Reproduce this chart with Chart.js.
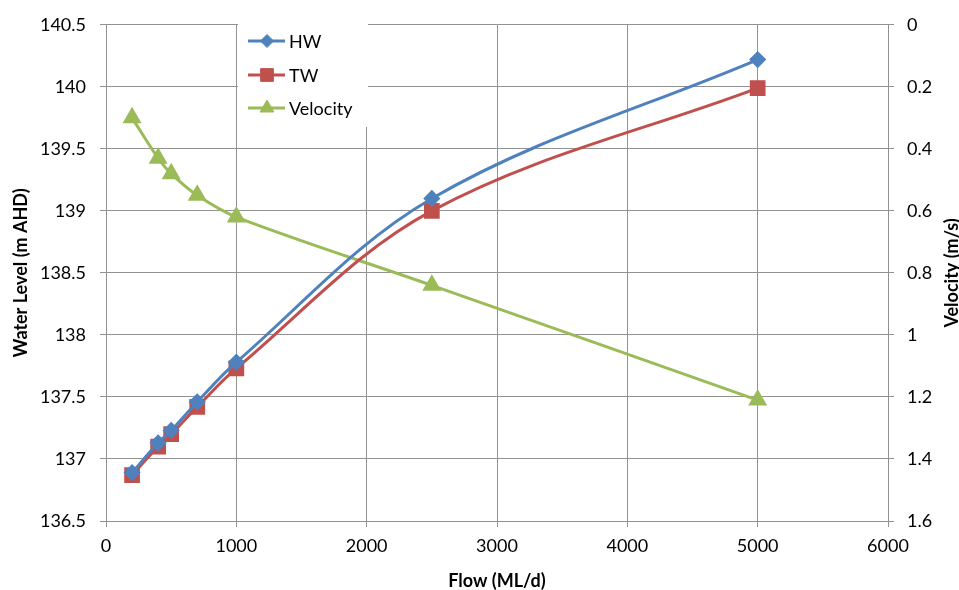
<!DOCTYPE html>
<html>
<head>
<meta charset="utf-8">
<script src="https://cdn.jsdelivr.net/npm/chart.js@4/dist/chart.umd.min.js"></script>
<style>
html,body{margin:0;padding:0;background:#fff;}
#wrap{width:959px;height:590px;}
</style>
</head>
<body>
<div id="wrap"><canvas id="c" width="959" height="590"></canvas></div>
<script>
const flows = [200, 400, 500, 700, 1000, 2500, 5000];
const hw = [136.89, 137.13, 137.23, 137.46, 137.78, 139.10, 140.22];
const tw = [136.87, 137.10, 137.20, 137.42, 137.73, 139.00, 139.99];
const velocity = [0.30, 0.43, 0.48, 0.55, 0.62, 0.84, 1.21];
const seriesNames = ['HW', 'TW', 'Velocity'];
const xTitle = 'Flow (ML/d)';
const yTitle = 'Water Level (m AHD)';
const y2Title = 'Velocity (m/s)';

const FONT = 'Lato, "Liberation Sans", sans-serif';
const GRID = '#929292';
const pts = (xs, ys) => xs.map((x, i) => ({x: x, y: ys[i]}));
const fmt = v => String(parseFloat(Number(v).toFixed(3)));

const legendPlugin = {
  id: 'insideLegend',
  afterDraw(chart) {
    const ctx = chart.ctx;
    ctx.save();
    ctx.fillStyle = '#ffffff';
    ctx.fillRect(238, 18, 130, 109);
    const ys = [41, 75, 108];
    chart.data.datasets.forEach((ds, i) => {
      const y = ys[i];
      ctx.strokeStyle = ds.borderColor;
      ctx.lineWidth = 3;
      ctx.beginPath();
      ctx.moveTo(248, y);
      ctx.lineTo(285, y);
      ctx.stroke();
      ctx.fillStyle = ds.backgroundColor;
      ctx.strokeStyle = ds.borderColor;
      ctx.lineWidth = 1;
      Chart.helpers.drawPoint(ctx, {pointStyle: ds.pointStyle, radius: ds.pointRadius, borderWidth: 1, rotation: 0}, 267, y);
      ctx.fillStyle = '#000';
      ctx.font = '18px ' + FONT;
      ctx.textBaseline = 'middle';
      ctx.textAlign = 'left';
      ctx.fillText(ds.label, 289, y + 1);
    });
    // right axis title (reads bottom-to-top, partly cut at the edge)
    const a = chart.chartArea;
    ctx.translate(952, (a.top + a.bottom) / 2);
    ctx.rotate(-Math.PI / 2);
    ctx.fillStyle = '#000';
    ctx.font = 'bold 18px ' + FONT;
    ctx.textAlign = 'center';
    ctx.textBaseline = 'middle';
    ctx.fillText(y2Title, 0, 0);
    ctx.restore();
  }
};

new Chart(document.getElementById('c'), {
  type: 'line',
  data: {
    datasets: [
      {label: seriesNames[0], data: pts(flows, hw), yAxisID: 'y', borderColor: '#4F81BD', backgroundColor: '#4F81BD',
       pointStyle: 'rectRot', pointRadius: 6.5, borderWidth: 3, tension: 0.35},
      {label: seriesNames[1], data: pts(flows, tw), yAxisID: 'y', borderColor: '#C0504D', backgroundColor: '#C0504D',
       pointStyle: 'rect', pointRadius: 9, borderWidth: 3, tension: 0.35},
      {label: seriesNames[2], data: pts(flows, velocity), yAxisID: 'y1', borderColor: '#9BBB59', backgroundColor: '#9BBB59',
       pointStyle: 'triangle', pointRadius: 8, borderWidth: 3, tension: 0.35}
    ]
  },
  options: {
    responsive: false,
    animation: false,
    events: [],
    layout: {padding: {top: 17, left: 0, right: 0, bottom: 0}},
    plugins: {legend: {display: false}, tooltip: {enabled: false}},
    elements: {point: {borderWidth: 1, hoverRadius: 0}},
    scales: {
      x: {
        type: 'linear', min: 0, max: 6000,
        ticks: {stepSize: 1000, color: '#000', font: {family: FONT, size: 18}, padding: 8, maxRotation: 0, callback: v => fmt(v)},
        grid: {color: GRID, tickLength: 6, tickColor: GRID},
        border: {color: GRID},
        title: {display: true, text: xTitle, color: '#000', font: {family: FONT, size: 18, weight: 'bold'}, padding: {top: -2, bottom: -2}},
        afterFit(s) { s.height = 69; }
      },
      y: {
        position: 'left', min: 136.5, max: 140.5,
        ticks: {stepSize: 0.5, color: '#000', font: {family: FONT, size: 18}, padding: 14, callback: v => fmt(v)},
        grid: {color: GRID, tickLength: 6, tickColor: GRID},
        border: {color: GRID},
        title: {display: true, text: yTitle, color: '#000', font: {family: FONT, size: 18, weight: 'bold'}, padding: {top: 10, bottom: 0}},
        afterFit(s) { s.width = 106; }
      },
      y1: {
        position: 'right', min: 0, max: 1.6, reverse: true,
        ticks: {stepSize: 0.2, color: '#000', font: {family: FONT, size: 18}, padding: 13, callback: v => fmt(v)},
        grid: {drawOnChartArea: false, tickLength: 6, tickColor: GRID, color: GRID},
        border: {color: GRID},
        title: {display: false},
        afterFit(s) { s.width = 71; }
      }
    }
  },
  plugins: [legendPlugin]
});
</script>
</body>
</html>
